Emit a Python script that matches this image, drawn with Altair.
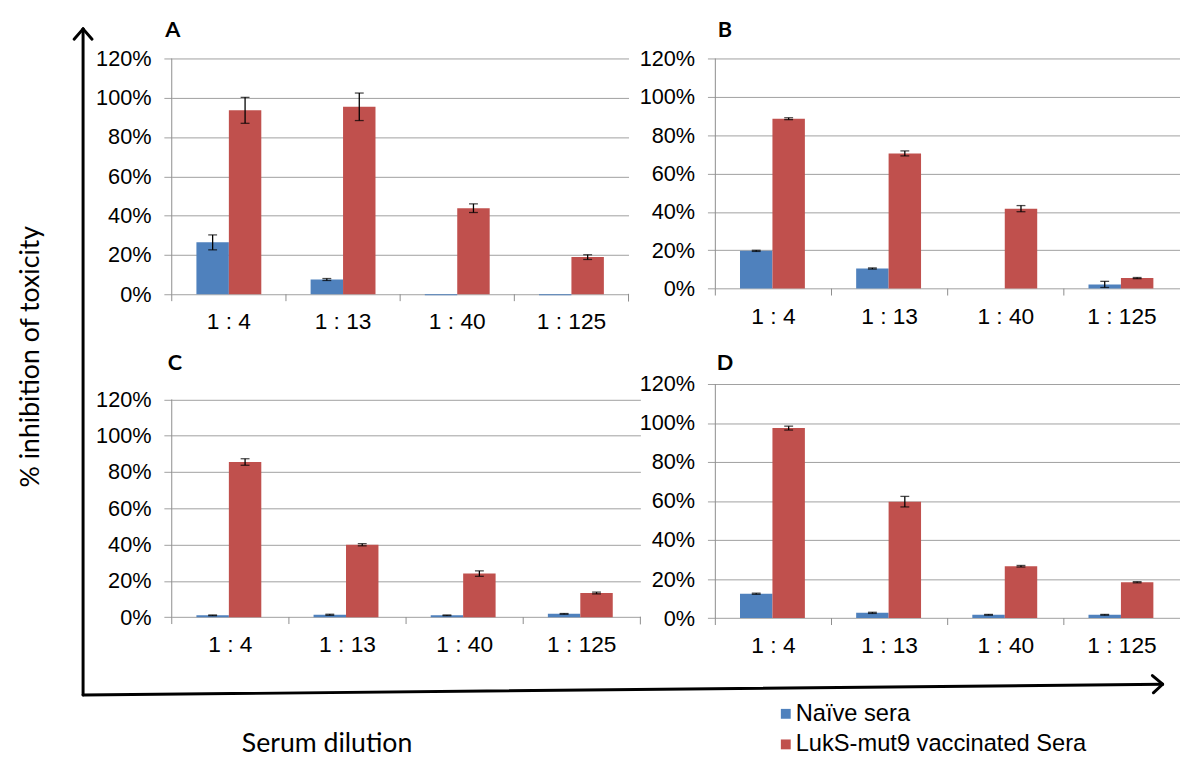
import altair as alt
import pandas as pd

dilutions = ["1 : 4", "1 : 13", "1 : 40", "1 : 125"]
series = ["Naïve sera", "LukS-mut9 vaccinated Sera"]
colors = ["#4F81BD", "#C0504D"]
y_ticks = [0, 20, 40, 60, 80, 100, 120]

# Panel A
a_naive = [26.4, 7.5, -0.5, -0.5]
a_naive_err = [3.8, 0.5, 0.0, 0.0]
a_vacc = [93.6, 95.4, 43.8, 18.9]
a_vacc_err = [6.6, 7.0, 2.2, 1.2]
# Panel B
b_naive = [19.7, 10.5, 0.0, 2.2]
b_naive_err = [0.3, 0.3, 0.0, 1.6]
b_vacc = [88.6, 70.5, 41.7, 5.5]
b_vacc_err = [0.5, 1.3, 1.6, 0.3]
# Panel C
c_naive = [1.0, 1.3, 1.0, 1.8]
c_naive_err = [0.2, 0.3, 0.2, 0.2]
c_vacc = [85.5, 39.9, 24.0, 13.3]
c_vacc_err = [1.8, 0.6, 1.5, 0.5]
# Panel D
d_naive = [12.5, 2.7, 1.7, 1.7]
d_naive_err = [0.3, 0.3, 0.2, 0.2]
d_vacc = [97.4, 59.7, 26.6, 18.4]
d_vacc_err = [1.0, 2.7, 0.4, 0.3]

GRID = "#a0a0a0"
LABEL_FONT = "Liberation Sans"
TITLE_FONT = "Lato"


def one(text_value):
    return alt.Chart(pd.DataFrame({"t": [text_value]}))


def seg(x, y, x2, y2, color="black", w=3):
    return one("").mark_rule(color=color, strokeWidth=w, strokeCap="round").encode(
        x=alt.value(x), y=alt.value(y), x2=alt.value(x2), y2=alt.value(y2)
    )


def panel(letter, lpos, naive, naive_err, vacc, vacc_err, width, height, ymax,
          xrange=None, end_tick=True, extras=()):
    rows = []
    for i, d in enumerate(dilutions):
        rows.append(dict(dilution=d, series=series[0], value=naive[i], err=naive_err[i]))
        rows.append(dict(dilution=d, series=series[1], value=vacc[i], err=vacc_err[i]))
    df = pd.DataFrame(rows)
    df["lo"] = df["value"] - df["err"]
    df["hi"] = df["value"] + df["err"]

    if xrange is not None:
        xscale = alt.Scale(domain=dilutions, paddingInner=0, paddingOuter=0, range=[0, xrange])
    else:
        xscale = alt.Scale(domain=dilutions, paddingInner=0, paddingOuter=0)
    yscale = alt.Scale(domain=[0, ymax], nice=False, zero=True)
    xoff = alt.XOffset("series:N", scale=alt.Scale(domain=series, paddingInner=0, paddingOuter=0.76))

    x_axis = alt.Axis(domain=False, ticks=False, tickSize=0, grid=False, labelAngle=0,
                      labelPadding=28, labelBaseline="middle", labelFont=LABEL_FONT,
                      labelFontSize=23, labelColor="#000", labelOverlap=False)

    def y_axis():
        return alt.Axis(values=y_ticks, tickCount=7, labelExpr="datum.value + '%'", grid=True,
                        gridColor=GRID, gridWidth=1, domain=False, ticks=True,
                        tickColor=GRID, tickSize=8, labelPadding=13, labelFont=LABEL_FONT,
                        labelFontSize=22, labelColor="#000", labelOverlap=False)

    base = alt.Chart(df)
    bars = base.mark_bar().encode(
        x=alt.X("dilution:N", scale=xscale, sort=dilutions, axis=x_axis, title=None),
        xOffset=xoff,
        y=alt.Y("value:Q", scale=yscale, axis=y_axis(), title=None),
        color=alt.Color("series:N", scale=alt.Scale(domain=series, range=colors), legend=None),
    )
    errd = base.transform_filter("datum.err > 0")
    xr = alt.X("dilution:N", sort=dilutions, axis=x_axis, title=None)
    err_rule = errd.mark_rule(color="black", strokeWidth=1.3).encode(
        x=xr, xOffset=xoff, y=alt.Y("lo:Q", axis=y_axis(), title=None), y2="hi:Q")
    cap_hi = errd.mark_tick(color="black", thickness=1.3, size=9).encode(
        x=xr, xOffset=xoff, y=alt.Y("hi:Q", axis=y_axis(), title=None))
    cap_lo = errd.mark_tick(color="black", thickness=1.3, size=9).encode(
        x=xr, xOffset=xoff, y=alt.Y("lo:Q", axis=y_axis(), title=None))

    yline = alt.Chart(pd.DataFrame({"a": [0], "b": [120]})).mark_rule(color="#8c8c8c").encode(
        x=alt.value(0), y=alt.Y("a:Q", axis=y_axis(), title=None), y2="b:Q")

    xticks = alt.Chart(pd.DataFrame({"dilution": dilutions})).mark_rule(color="#8c8c8c").encode(
        x=alt.X("dilution:N", sort=dilutions, bandPosition=0, axis=x_axis, title=None),
        y=alt.value(height), y2=alt.value(height + 7))

    lab = one(letter).mark_text(font=TITLE_FONT, fontWeight="bold", fontSize=22, align="left",
                                baseline="middle", color="black").encode(
        text="t:N", x=alt.value(lpos[0]), y=alt.value(lpos[1]))

    layers = [bars, err_rule, cap_hi, cap_lo, yline, xticks, lab]
    if end_tick:
        layers.append(seg(width, height, width, height + 7, color="#8c8c8c", w=1))
    layers.extend(extras)
    return alt.layer(*layers).properties(width=width, height=height)


# decorations (local pixel positions relative to each panel)
deco_a = [
    one("").mark_rule(color="white", strokeWidth=1).encode(
        x=alt.value(-164.6), x2=alt.value(-164.1), y=alt.value(-44.7), y2=alt.value(-44.7)),
    seg(-89.9, -30, -89.9, 645.3),
    seg(-89.9, 645.3, 1004.4, 634.3),
    seg(-89.9, -30, -99.0, -19.5),
    seg(-89.9, -30, -80.8, -19.5),
    seg(1004.4, 634.3, 994.0, 625.5),
    seg(1004.4, 634.3, 995.0, 643.0),
    one("% inhibition of toxicity").mark_text(font=TITLE_FONT, fontSize=27, angle=270,
                                               align="center", baseline="middle", color="black").encode(
        text="t:N", x=alt.value(-142.6), y=alt.value(302.3)),
]
deco_c = [
    one("Serum dilution").mark_text(font=TITLE_FONT, fontSize=27, align="center",
                                     baseline="middle", color="black").encode(
        text="t:N", x=alt.value(157.4), y=alt.value(365.3)),
]
deco_d = [
    one("").mark_square(size=100, color=colors[0], opacity=1).encode(
        x=alt.value(71.4), y=alt.value(334.3)),
    one("").mark_square(size=100, color=colors[1], opacity=1).encode(
        x=alt.value(71.4), y=alt.value(365.3)),
    one(series[0]).mark_text(font=LABEL_FONT, fontSize=24, align="left", baseline="middle",
                             color="black").encode(text="t:N", x=alt.value(81.4), y=alt.value(334.3)),
    one(series[1]).mark_text(font=LABEL_FONT, fontSize=24, align="left", baseline="middle",
                             color="black").encode(text="t:N", x=alt.value(81.4), y=alt.value(365.3)),
]

pA = panel("A", (-6.6, -29), a_naive, a_naive_err, a_vacc, a_vacc_err,
           463, 239, 120, extras=deco_a)
pB = panel("B", (2.4, -29), b_naive, b_naive_err, b_vacc, b_vacc_err,
           456, 233.3, 120, xrange=471, end_tick=False)
pC = panel("C", (-4.1, -21.7), c_naive, c_naive_err, c_vacc, c_vacc_err,
           475, 236.3, 128.48, extras=deco_c)
pD = panel("D", (1.4, -21.7), d_naive, d_naive_err, d_vacc, d_vacc_err,
           456, 237.3, 120, xrange=471, end_tick=False, extras=deco_d)

chart = alt.concat(pA, pB, pC, pD, columns=2, spacing={"row": 91, "column": 76},
                   bounds="flush", align="all").properties(
    padding=0, background="white"
).configure_view(strokeWidth=0)

chart.save("out.html", embed_options={"renderer": "svg", "actions": False})
